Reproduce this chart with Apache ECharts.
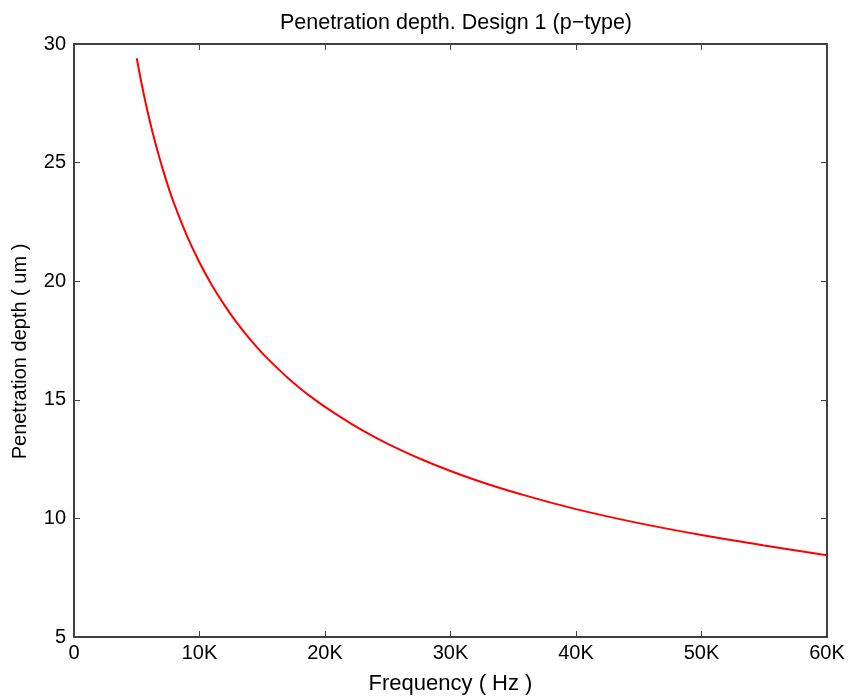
<!DOCTYPE html>
<html>
<head>
<meta charset="utf-8">
<script src="https://cdn.jsdelivr.net/npm/echarts@6/dist/echarts.min.js"></script>
<style>
  html, body { margin: 0; padding: 0; background: #fff; }
  #chart { width: 850px; height: 696px; }
</style>
</head>
<body>
<div id="chart"></div>
<script>
// frequency in Hz, depth in um
const freq = [5000, 5500, 6000, 6500, 7000, 7500, 8000, 9000, 10000, 11000, 12000, 13000,
  14000, 15000, 16000, 17000, 18000, 19000, 20000, 22000, 24000, 26000, 28000, 30000,
  33000, 36000, 40000, 45000, 50000, 55000, 60000];
const depth = [29.4, 28.03, 26.84, 25.79, 24.85, 24.0, 23.24, 21.91, 20.79, 19.82, 18.98, 18.23,
  17.57, 16.97, 16.44, 15.94, 15.49, 15.08, 14.7, 14.02, 13.42, 12.89, 12.42, 12.0,
  11.44, 10.96, 10.39, 9.8, 9.3, 8.86, 8.45];

const font = "'Liberation Sans', Arial, sans-serif";
const chart = echarts.init(document.getElementById("chart"));

const tickStyle = { show: true, inside: true, length: 6, lineStyle: { color: "#444", width: 1 } };
const lineStyle = { show: true, onZero: false, lineStyle: { color: "#000", width: 1.5 } };

function kLabel(v) {
  return v === 0 ? "0" : (v / 1000) + "K";
}

chart.setOption({
  animation: false,
  title: {
    text: "Penetration depth. Design 1 (p\u2212type)",
    left: 451, top: 7, textAlign: "center",
    textStyle: { fontFamily: font, fontSize: 21.5, fontWeight: "normal", color: "#000" }
  },
  grid: { left: 74, right: 23, top: 44, bottom: 59, outerBoundsMode: "none" },
  xAxis: [
    {
      type: "value", min: 0, max: 60000, interval: 10000,
      name: "Frequency ( Hz )", nameLocation: "middle", nameGap: 36,
      nameTextStyle: { fontFamily: font, fontSize: 22, color: "#000" },
      axisLine: lineStyle, axisTick: tickStyle, splitLine: { show: false },
      axisLabel: { fontFamily: font, fontSize: 20, color: "#000", margin: 6, formatter: kLabel }
    },
    {
      type: "value", position: "top", min: 0, max: 60000, interval: 10000,
      axisLine: lineStyle, axisTick: tickStyle, splitLine: { show: false },
      axisLabel: { show: false }
    }
  ],
  yAxis: [
    {
      type: "value", min: 5, max: 30, interval: 5,
      name: "Penetration depth ( um )", nameLocation: "middle", nameGap: 44,
      nameTextStyle: { fontFamily: font, fontSize: 20, color: "#000", padding: [0, 22, 0, 0] },
      axisLine: lineStyle, axisTick: tickStyle, splitLine: { show: false },
      axisLabel: { fontFamily: font, fontSize: 20, color: "#000", margin: 8 }
    },
    {
      type: "value", position: "right", min: 5, max: 30, interval: 5,
      axisLine: lineStyle, axisTick: tickStyle, splitLine: { show: false },
      axisLabel: { show: false }
    }
  ],
  series: [
    {
      type: "line",
      data: freq.map((f, i) => [f, depth[i]]),
      smooth: 0.3,
      symbol: "none",
      lineStyle: { color: "#ff0000", width: 2 }
    }
  ]
});
</script>
</body>
</html>
